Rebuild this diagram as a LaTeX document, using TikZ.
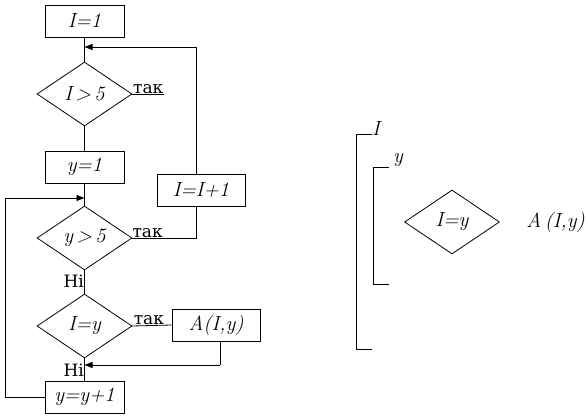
\documentclass[tikz,border=0pt]{standalone}
\usepackage{fontspec}
\newfontfamily\cyr{DejaVu Serif}
\usetikzlibrary{shapes.geometric,arrows.meta}
\begin{document}
\begin{tikzpicture}[x=1pt,y=-1pt,
  box/.style={draw,line width=0.8pt,minimum width=79pt,minimum height=32pt,inner sep=0pt,font=\fontsize{20.5}{22}\selectfont\itshape},
  dia/.style={draw,diamond,line width=0.8pt,aspect=1.48,minimum width=95pt,minimum height=64pt,inner sep=0pt,font=\fontsize{20.5}{22}\selectfont\itshape},
  lbl/.style={font=\cyr\fontsize{17}{19}\selectfont,inner sep=0.3pt},
  it/.style={font=\fontsize{20.5}{22}\selectfont\itshape,anchor=west,inner sep=0pt},
  ln/.style={line width=0.8pt},
  arr/.style={line width=0.8pt,-{Triangle[length=8pt,width=6pt]}}]
\useasboundingbox (0,0) rectangle (588,419);
% left flowchart
\node[box] (b1) at (84.5,21) {I=1};
\node[dia] (d1) at (84.5,94) {I\,>\,5};
\node[box] (b2) at (84.5,167) {y=1};
\node[box,minimum width=88pt] (b3) at (201,190) {I=I+1};
\node[dia] (d2) at (84.5,238) {y\,>\,5};
\node[dia] (d3) at (84.5,326) {I=y};
\node[box,minimum width=88pt] (b4) at (216,325) {A(I,y)};
\node[box] (b5) at (84.5,397) {y=y+1};
\coordinate (c1) at (164,94);
\coordinate (m1) at (84.5,47);
\coordinate (m2) at (84.5,198);
\coordinate (m3) at (84.5,365);
\coordinate (r1) at (196,47);
\coordinate (r2) at (196,238);
\coordinate (l1) at (5,198);
\coordinate (l2) at (5,397);
\coordinate (a1) at (220,365);
\draw[ln] (b1.south) -- (d1.north);
\draw[ln] (d1.east) -- node[lbl,above] {так} (c1);
\draw[ln] (d1.south) -- (b2.north);
\draw[ln] (b2.south) -- (d2.north);
\draw[ln] (d2.east) -- node[lbl,above,pos=0.24] {так} (r2) -- (r2 |- b3.south);
\draw[ln] (r1 |- b3.north) -- (r1);
\draw[arr] (r1) -- (m1);
\draw[ln] (d2.south) -- node[lbl,left,pos=0.45] {Ні} (d3.north);
\draw[ln] (d3.east) -- node[lbl,above,pos=0.42] {так} (b4.west);
\draw[ln] (a1 |- b4.south) -- (a1);
\draw[arr] (a1) -- (m3);
\draw[ln] (d3.south) -- node[lbl,left,pos=0.55] {Ні} (b5.north);
\draw[ln] (b5.west) -- (l2) -- (l1);
\draw[arr] (l1) -- (m2);
% right side
\coordinate (p1) at (356,134);
\coordinate (p2) at (356,349);
\coordinate (q1) at (373,167);
\coordinate (q2) at (373,284);
\draw[ln] (372,134) -- (p1) -- (p2) -- (372,349);
\draw[ln] (389,167) -- (q1) -- (q2) -- (389,284);
\node[it] (tI) at (372,129) {I};
\node[it] (ty) at (393,160) {y};
\node[dia] (d4) at (452,222) {I=y};
\node[it,anchor=east] (tA) at (585,222) {A\,(I,y)};
\end{tikzpicture}
\end{document}
